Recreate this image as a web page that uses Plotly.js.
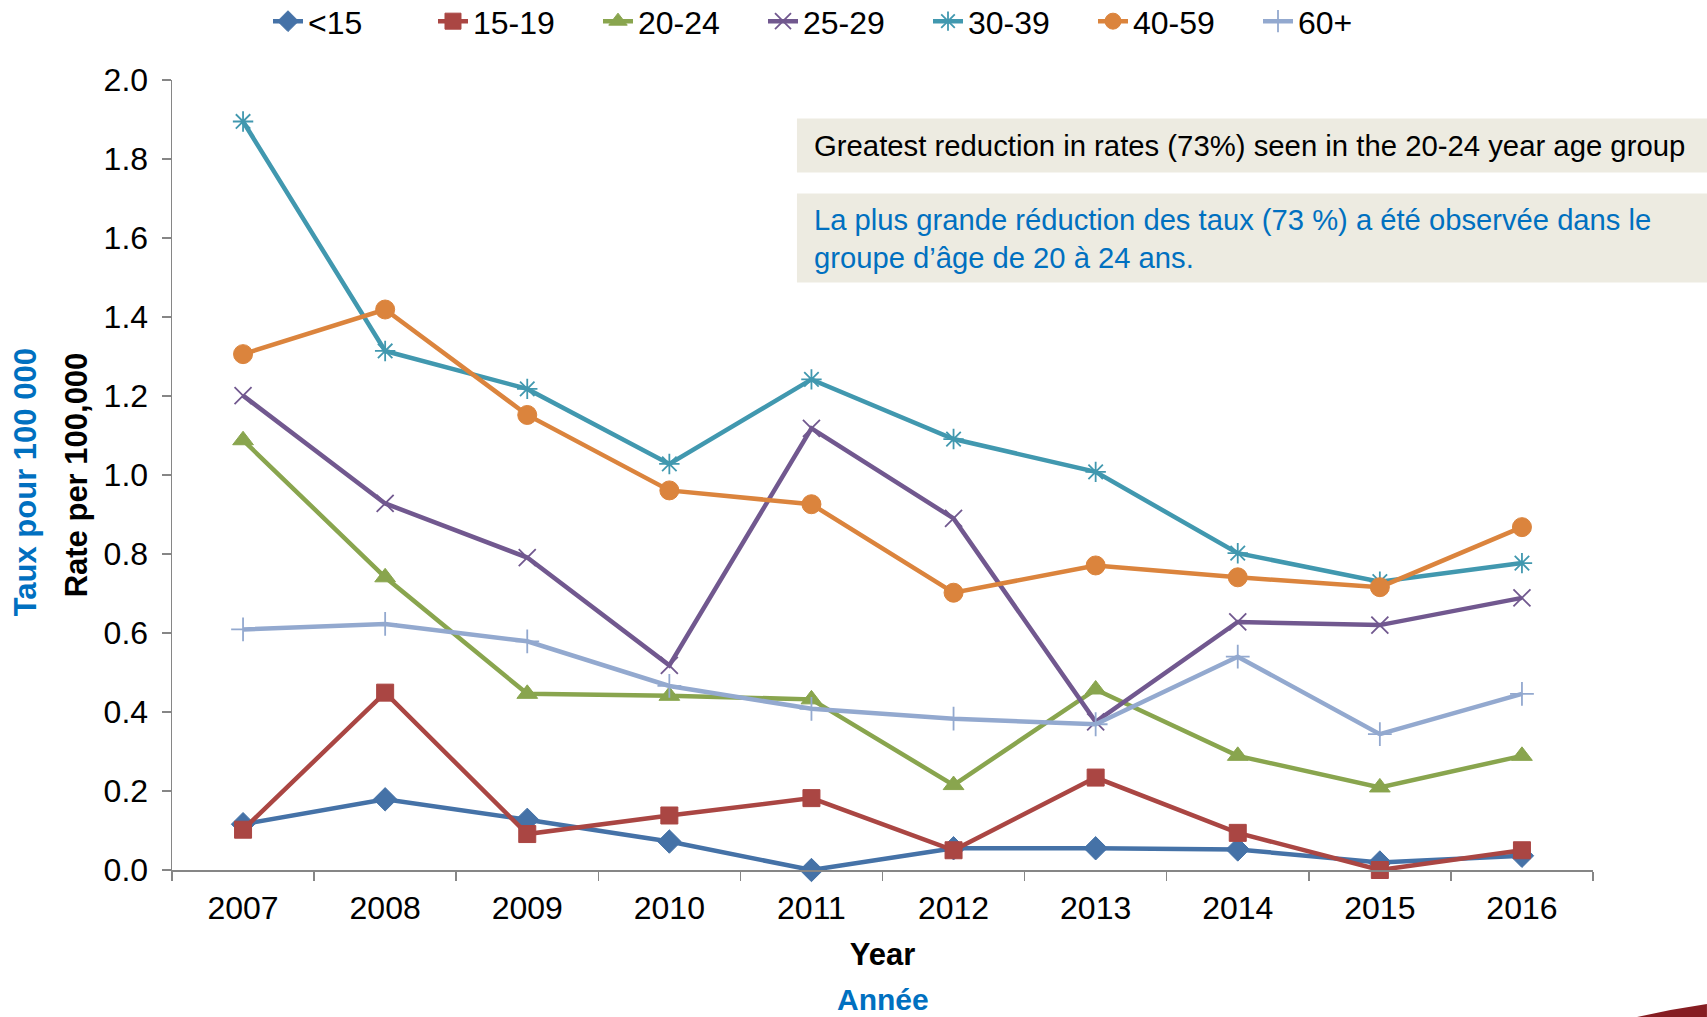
<!DOCTYPE html>
<html>
<head>
<meta charset="utf-8">
<script src="https://cdn.plot.ly/plotly-3.0.1.min.js"></script>
<style>
  html, body { margin: 0; padding: 0; background: #ffffff; }
  #chart { width: 1707px; height: 1017px; }
</style>
</head>
<body>
<div id="chart"></div>
<script>
// ---- Data ----
const years = ["2007", "2008", "2009", "2010", "2011", "2012", "2013", "2014", "2015", "2016"];
const seriesNames = ["<15", "15-19", "20-24", "25-29", "30-39", "40-59", "60+"];
const under15   = [0.116, 0.179, 0.127, 0.072, 0.000, 0.055, 0.055, 0.052, 0.019, 0.036];
const age15to19 = [0.102, 0.449, 0.091, 0.138, 0.182, 0.050, 0.234, 0.094, 0.000, 0.050];
const age20to24 = [1.088, 0.741, 0.446, 0.441, 0.432, 0.215, 0.457, 0.289, 0.209, 0.289];
const age25to29 = [1.201, 0.928, 0.791, 0.518, 1.118, 0.890, 0.375, 0.628, 0.620, 0.689];
const age30to39 = [1.895, 1.314, 1.218, 1.028, 1.242, 1.091, 1.008, 0.802, 0.730, 0.777];
const age40to59 = [1.306, 1.419, 1.152, 0.961, 0.926, 0.702, 0.771, 0.741, 0.716, 0.868];
const age60plus = [0.609, 0.623, 0.579, 0.466, 0.408, 0.383, 0.369, 0.540, 0.344, 0.446];
const yTickVals = [0, 0.2, 0.4, 0.6, 0.8, 1.0, 1.2, 1.4, 1.6, 1.8, 2.0];

const noteEn = "Greatest reduction in rates (73%) seen in the 20-24 year age group";
const noteFr = "La plus grande réduction des taux (73 %) a été observée dans le<br>groupe d’âge de 20 à 24 ans.";

// ---- Styles ----
const FONT = "Liberation Sans, Arial, sans-serif";
const styles = [
  {color: "#4572A7", symbol: "diamond",        size: 18, lw: 1},
  {color: "#AA4643", symbol: "square",         size: 17, lw: 1},
  {color: "#89A54E", symbol: "triangle-up",    size: 18, lw: 1},
  {color: "#71588F", symbol: "x-thin-open",    size: 17, lw: 1.8},
  {color: "#4198AF", symbol: "asterisk-open",  size: 17, lw: 1.8},
  {color: "#DB843D", symbol: "circle",         size: 19, lw: 1},
  {color: "#93A9CF", symbol: "cross-thin-open",size: 17, lw: 1.8}
];
const values = [under15, age15to19, age20to24, age25to29, age30to39, age40to59, age60plus];

const traces = values.map((v, i) => ({
  type: "scatter",
  mode: "lines+markers",
  name: seriesNames[i],
  x: years,
  y: v,
  line: {color: styles[i].color, width: 4.5},
  marker: {
    symbol: styles[i].symbol,
    size: styles[i].size,
    color: styles[i].color,
    line: {color: styles[i].color, width: styles[i].lw}
  },
  cliponaxis: false
}));

const layout = {
  width: 1707,
  height: 1017,
  margin: {l: 172, r: 114, t: 80, b: 147, autoexpand: false},
  paper_bgcolor: "#ffffff",
  plot_bgcolor: "#ffffff",
  font: {family: FONT, size: 30, color: "#000000"},
  showlegend: true,
  legend: {
    orientation: "h",
    xref: "container", yref: "container",
    x: 0.157, xanchor: "left",
    y: 0.979, yanchor: "middle",
    font: {family: FONT, size: 32, color: "#000000"},
    itemwidth: 30,
    entrywidth: 120,
    tracegroupgap: 0,
    bgcolor: "rgba(0,0,0,0)"
  },
  xaxis: {
    type: "category",
    range: [-0.5, 9.5],
    showline: true,
    linecolor: "#868686",
    linewidth: 1.5,
    ticks: "outside",
    tickson: "boundaries",
    ticklen: 9,
    tickcolor: "#868686",
    tickwidth: 1.5,
    showgrid: false,
    zeroline: false,
    ticklabelstandoff: 9,
    tickfont: {family: FONT, size: 32, color: "#000000"},
    title: {text: "<b>Year</b>", font: {family: FONT, size: 31, color: "#000000"}, standoff: 18}
  },
  yaxis: {
    range: [0, 2.0],
    tickvals: yTickVals,
    tickformat: ".1f",
    showline: true,
    linecolor: "#868686",
    linewidth: 1.5,
    ticks: "outside",
    ticklen: 9,
    tickcolor: "#868686",
    tickwidth: 1.5,
    showgrid: false,
    zeroline: false,
    ticklabelstandoff: 7,
    tickfont: {family: FONT, size: 32, color: "#000000"},
    title: {text: "<b>Rate per 100,000</b>", font: {family: FONT, size: 31, color: "#000000"}, standoff: 7}
  },
  shapes: [
    {type: "rect", xref: "paper", yref: "paper", x0: 0.4398, x1: 1.0802, y0: 0.883, y1: 0.9513,
     fillcolor: "#EDEBE1", line: {width: 0}, layer: "below"},
    {type: "rect", xref: "paper", yref: "paper", x0: 0.4398, x1: 1.0802, y0: 0.7438, y1: 0.8564,
     fillcolor: "#EDEBE1", line: {width: 0}, layer: "below"},
    {type: "path", xref: "paper", yref: "paper",
     path: "M 1.031,-0.186 Q 1.055,-0.176 1.0802,-0.1695 L 1.0802,-0.186 Z",
     fillcolor: "#861D22", line: {width: 0}}
  ],
  annotations: [
    {xref: "paper", yref: "paper", x: 0.4504, y: 0.9171, xanchor: "left", yanchor: "middle",
     text: noteEn, showarrow: false, align: "left",
     font: {family: FONT, size: 29.3, color: "#000000"}},
    {xref: "paper", yref: "paper", x: 0.4504, y: 0.7989, xanchor: "left", yanchor: "middle",
     text: noteFr, showarrow: false, align: "left",
     font: {family: FONT, size: 29.2, color: "#0070C0"}},
    {xref: "paper", yref: "paper", x: 0.5, y: -0.1645, xanchor: "center", yanchor: "middle",
     text: "<b>Année</b>", showarrow: false,
     font: {family: FONT, size: 30, color: "#0070C0"}},
    {xref: "paper", yref: "paper", x: -0.1034, y: 0.4908, xanchor: "center", yanchor: "middle",
     text: "<b>Taux pour 100 000</b>", showarrow: false, textangle: -90,
     font: {family: FONT, size: 31, color: "#0070C0"}}
  ]
};

Plotly.newPlot("chart", traces, layout, {displayModeBar: false, staticPlot: true});
</script>
</body>
</html>
